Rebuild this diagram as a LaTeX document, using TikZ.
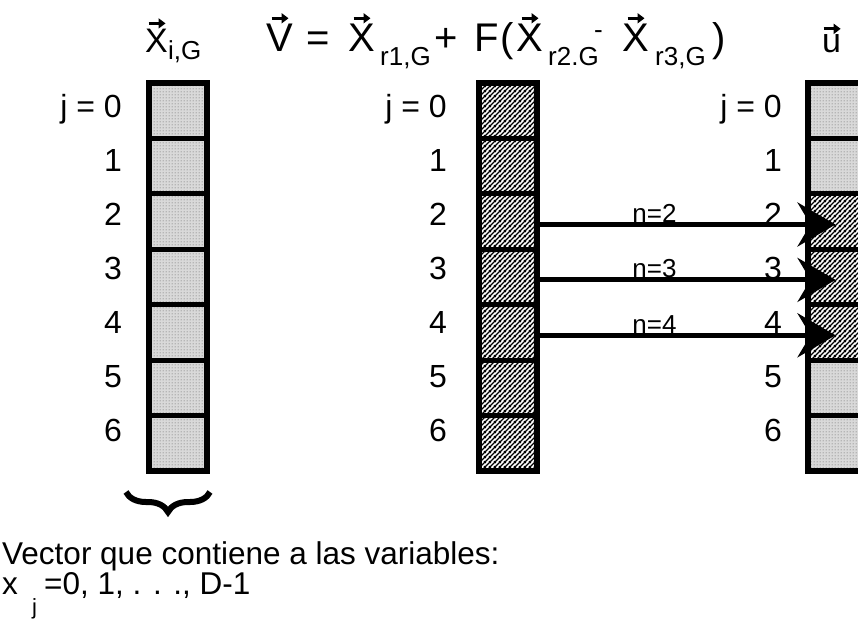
\documentclass[tikz,border=0pt]{standalone}
\usepackage{fontspec}
\setmainfont{Liberation Sans}
\usetikzlibrary{patterns.meta,arrows.meta,decorations.pathreplacing}

\tikzdeclarepattern{name=hatchdense, type=uncolored,
  bottom left={(0pt,0pt)}, top right={(5pt,5pt)}, tile size={(5pt,5pt)},
  code={\draw[line width=1.6pt] (-1pt,-1pt)--(6pt,6pt) (-1pt,4pt)--(1pt,6pt) (4pt,-1pt)--(6pt,1pt);}}
\tikzdeclarepattern{name=stipple, type=uncolored,
  bottom left={(0pt,0pt)}, top right={(3pt,3pt)}, tile size={(3pt,3pt)},
  code={\fill (1.5pt,1.5pt) circle (0.8pt);}}

\tikzset{
  cellbox/.style={draw, line width=5pt, minimum width=58pt, minimum height=55.4pt, inner sep=0pt, outer sep=0pt},
  dotcell/.style={cellbox, preaction={fill=gray!30}, pattern=stipple, pattern color=gray!85},
  hatchcell/.style={cellbox, preaction={fill=white}, pattern=hatchdense, pattern color=black},
  frame/.style={line width=6pt},
  numlab/.style={font=\fontsize{32}{34}\selectfont, anchor=base east, inner sep=0pt},
  nlab/.style={font=\fontsize{26}{28}\selectfont, anchor=base, inner sep=0pt},
  bigtxt/.style={font=\fontsize{40}{42}\selectfont, anchor=base west, inner sep=0pt},
  midtxt/.style={font=\fontsize{34}{36}\selectfont, anchor=base west, inner sep=0pt},
  subtxt/.style={font=\fontsize{26}{28}\selectfont, anchor=base west, inner sep=0pt},
  bodytxt/.style={font=\fontsize{31.5}{33}\selectfont, anchor=base west, inner sep=0pt},
  jtxt/.style={font=\fontsize{22}{24}\selectfont, anchor=base west, inner sep=0pt},
  arrowline/.style={line width=5pt, -{Stealth[length=38pt, width=44pt, inset=13pt]}},
  vecarr/.style={line width=3pt, -{Triangle[length=7pt, width=10pt]}},
}

\begin{document}
\begin{tikzpicture}[x=1pt, y=-1pt]
\useasboundingbox[fill=white] (0,0) rectangle (858,621);

% left column
\foreach \j in {0,...,6} {
  \node[dotcell] (L\j) at (178, {110.7+55.4*\j}) {};
}
\draw[frame] (L0.north west) rectangle (L6.south east);
% middle column
\foreach \j in {0,...,6} {
  \node[hatchcell] (M\j) at (507.5, {110.7+55.4*\j}) {};
}
\draw[frame] (M0.north west) rectangle (M6.south east);
% right column
\foreach \j/\s in {0/dotcell,1/dotcell,2/hatchcell,3/hatchcell,4/hatchcell,5/dotcell,6/dotcell} {
  \node[\s] (R\j) at (836.5, {110.7+55.4*\j}) {};
}
\draw[frame] (R0.north west) rectangle (R6.south east);

% index labels
\node[numlab] (LL0) at (122,117) {j = 0};
\node[numlab] (ML0) at (447,117) {j = 0};
\node[numlab] (RL0) at (782,117) {j = 0};
\foreach \j in {1,...,6} {
  \node[numlab] (LL\j) at (122, {117+54*\j}) {\j};
  \node[numlab] (ML\j) at (447, {117+54*\j}) {\j};
  \node[numlab] (RL\j) at (782, {117+54*\j}) {\j};
}

% arrows
\foreach \j in {2,3,4} {
  \coordinate (S\j) at ([yshift=-3pt]M\j.east);
  \coordinate (E\j) at ([xshift=28pt,yshift=-3pt]R\j.west);
  \draw[arrowline] (S\j) -- (E\j);
  \node[nlab] (N\j) at ([xshift=118pt,yshift=2pt]S\j) {n=\j};
}

% left title
\node[midtxt] (tx) at (145,52) {X};
\node[subtxt] (txs) at (168,59) {i,G};
% main formula
\node[bigtxt] (t1) at (266,51) {V};
\node[bigtxt] (t2) at (306,51) {=};
\node[bigtxt] (t3) at (348,51) {X};
\node[subtxt] (t3s) at (380,65) {r1,G};
\node[bigtxt] (t4) at (434,51) {+};
\node[bigtxt] (t5) at (474,51) {F};
\node[bigtxt] (t6) at (500,51) {(};
\node[bigtxt] (t7) at (516,51) {X};
\node[subtxt] (t7s) at (548,65) {r2.G};
\node[subtxt] (t8) at (594,38) {-};
\node[bigtxt] (t9) at (622,51) {X};
\node[subtxt] (t9s) at (655,65) {r3,G};
\node[bigtxt] (t10) at (712,51) {)};
\node[midtxt] (tu) at (822,52) {u};
% vector arrows
\foreach \n in {tx,t1,t3,t7,t9,tu} {
  \draw[vecarr] ([xshift=-8pt,yshift=5pt]\n.north) -- ([xshift=9pt,yshift=5pt]\n.north);
}

% brace and description
\coordinate (b1) at (126,492);
\coordinate (b2) at (210,492);
\draw[decorate, decoration={brace, mirror, amplitude=20pt}, line width=6pt] (b1) -- (b2);
\node[bodytxt] (d1) at (2,564) {Vector que contiene a las variables:};
\node[bodytxt] (d2) at (2,594) {x};
\node[jtxt] (d2j) at (32,614) {j};
\node[bodytxt] (d3) at (44,594) {=0, 1, . . ., D-1};
\end{tikzpicture}
\end{document}
